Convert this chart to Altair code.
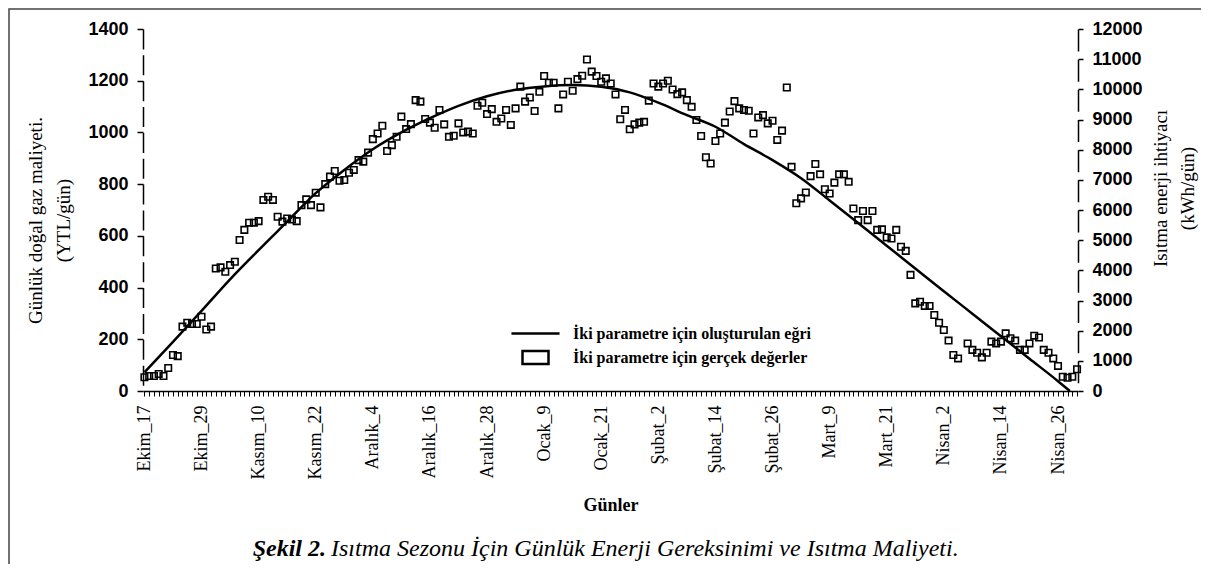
import json
import altair as alt
import pandas as pd

# ---- data ----
day_labels = ["Ekim_17", "Ekim_29", "Kasım_10", "Kasım_22", "Aralık_4", "Aralık_16",
              "Aralık_28", "Ocak_9", "Ocak_21", "Şubat_2", "Şubat_14", "Şubat_26",
              "Mart_9", "Mart_21", "Nisan_2", "Nisan_14", "Nisan_26"]
tick_days = list(range(0, 197))

# daily measured cost (YTL/gün); index = day since Ekim_17, None = no reading
cost_values = [
    53, 58, 58, 66, 58, 89, 139, 135, 249, 264,
    259, 259, 287, 238, 249, 474, 478, 461, 487, 500,
    584, 623, 651, 651, 657, 739, 751, 739, 674, 655,
    667, 663, 657, 719, 741, 719, 767, 710, 800, 829,
    851, 813, 816, 844, 855, 893, 887, 922, 974, 996,
    1026, 928, 951, 983, 1061, 1013, 1032, 1125, 1119, 1052,
    1038, 1018, 1087, 1031, 983, 987, 1035, 1000, 1003, 996,
    1103, 1115, 1071, 1090, 1041, 1054, 1087, 1029, 1093, 1177,
    1119, 1135, 1083, 1157, 1218, 1192, 1192, 1093, 1147, 1196,
    1161, 1206, 1219, 1282, 1235, 1218, 1196, 1209, 1189, 1147,
    1051, 1087, 1012, 1031, 1038, 1041, 1123, 1189, 1177, 1189,
    1200, 1166, 1148, 1155, 1125, 1099, 1048, 986, 904, 880,
    967, 996, 1038, 1081, 1121, 1093, 1087, 1084, 996, 1058,
    1067, 1035, 1045, 971, 1007, 1174, 867, 726, 745, 768,
    831, 878, 838, 780, 764, 806, 838, 838, 809, 706,
    661, 696, 661, 696, 623, 625, 594, 590, 623, 558,
    542, 449, 339, 345, 329, 329, 294, 264, 236, 195,
    139, 126, None, 184, 159, 148, 130, 148, 191, 184,
    191, 223, 204, 195, 159, 159, 184, 214, 207, 159,
    148, 126, 97, 55, 51, 55, 84,
]

# fitted curve read at sample days
curve_days = [0, 6, 12, 18, 24, 30, 36, 42, 48, 54, 60, 66, 72, 78, 84, 90, 96,
              102, 108, 114, 120, 126, 132, 138, 144, 150, 156, 162, 168, 174,
              180, 186, 192, 194.5]
curve_values = [72, 190, 310, 432, 545, 655, 765, 855, 935, 1000, 1055, 1103,
                1140, 1165, 1178, 1183, 1177, 1155, 1115, 1067, 1022, 955, 893,
                823, 737, 650, 562, 474, 386, 299, 212, 125, 38, 0]

left_ticks = [0, 200, 400, 600, 800, 1000, 1200, 1400]
right_ticks = [0, 1000, 2000, 3000, 4000, 5000, 6000, 7000, 8000, 9000,
               10000, 11000, 12000]

legend_labels = ["İki parametre için oluşturulan eğri", "İki parametre için gerçek değerler"]
caption_bold = "Şekil 2."
caption_rest = "Isıtma Sezonu İçin Günlük Enerji Gereksinimi ve Isıtma Maliyeti."

# ---- tables ----
points = pd.DataFrame({"day": list(range(len(cost_values))), "cost": cost_values}).dropna()
curve = pd.DataFrame({"day": curve_days, "cost": curve_values})
legend_df = pd.DataFrame({"series": legend_labels})
right_df = pd.DataFrame({"kwh": right_ticks})
one = pd.DataFrame({"a": [0]})

W, H = 935, 362
serif = "Liberation Serif"
sans = "Liberation Sans"

xscale = alt.Scale(domain=[-0.3, 196.2], nice=False, zero=False)
yscale = alt.Scale(domain=[0, 1400], nice=False)

label_expr = ("datum.value % 12 == 0 ? " + json.dumps(day_labels, ensure_ascii=False)
              + "[datum.value / 12] : ''")

x_axis = alt.Axis(values=tick_days, labelExpr=label_expr, labelAngle=270,
                  labelAlign="right", labelBaseline="middle", labelFont=serif,
                  labelFontSize=18, labelColor="black", labelPadding=9,
                  labelOverlap=False, labelBound=False, labelFlush=False,
                  tickSize=5, tickColor="black", tickWidth=1,
                  domainColor="black", domainWidth=1.5, grid=False,
                  title="Günler", titleFont=serif, titleFontSize=18,
                  titleFontWeight="bold", titleColor="black", titlePadding=18)

y_axis = alt.Axis(values=left_ticks, orient="left", format="d", labelFont=sans,
                  labelFontSize=18, labelFontWeight="bold", labelColor="black",
                  labelPadding=9, tickSize=6, tickColor="black", tickWidth=1.5,
                  domainColor="black", domainWidth=1.5,
                  domainDash=[20, 5.86], domainDashOffset=20, grid=False,
                  title=["Günlük doğal gaz maliyeti.", "(YTL/gün)"],
                  titleFont=serif, titleFontSize=19, titleFontWeight="normal",
                  titleColor="black", titleLineHeight=28, titlePadding=14,
                  titleAngle=270, titleY=191)

r_axis = alt.Axis(values=right_ticks, orient="right", format="d", labelFont=sans,
                  labelFontSize=18, labelFontWeight="bold", labelColor="black",
                  labelPadding=9, tickSize=5, tickColor="black", tickWidth=1.5,
                  domainColor="black", domainWidth=1.5,
                  domainDash=[22, 8.17], domainDashOffset=22, grid=False,
                  title=["Isıtma enerji ihtiyacı", "(kWh/gün)"],
                  titleFont=serif, titleFontSize=19, titleFontWeight="normal",
                  titleColor="black", titleLineHeight=27,
                  titleAngle=270, titleBaseline="middle", titleX=82, titleY=159)

frame = alt.Chart(one).mark_rect(fill="transparent", stroke="#444", strokeWidth=1.5).encode(
    x=alt.value(-134), x2=alt.value(1300), y=alt.value(-20), y2=alt.value(800))

line = alt.Chart(curve).mark_line(color="black", strokeWidth=2.5, interpolate="monotone").encode(
    x=alt.X("day:Q", scale=xscale, axis=x_axis),
    y=alt.Y("cost:Q", scale=yscale, axis=y_axis),
)

pts = alt.Chart(points).mark_point(shape="square", filled=False, color="black",
                                   size=42, strokeWidth=1.6, opacity=1).encode(
    x=alt.X("day:Q", scale=xscale, axis=x_axis),
    y=alt.Y("cost:Q", scale=yscale, axis=y_axis),
)

left_group = alt.layer(line, pts)

legend_layer = alt.Chart(legend_df).mark_point(opacity=0, color="black", filled=False).encode(
    x=alt.value(0), y=alt.value(0),
    shape=alt.Shape("series:N",
                    scale=alt.Scale(domain=legend_labels,
                                    range=["M-1.85,0H1.85", "M-1,-0.5H1V0.5H-1Z"]),
                    legend=alt.Legend(orient="none", legendX=378, legendY=290,
                                      title=None, direction="vertical",
                                      labelFont=serif, labelFontSize=16,
                                      labelFontWeight="bold", labelColor="black",
                                      labelOffset=23, labelLimit=400, symbolSize=676,
                                      symbolStrokeWidth=2.5, symbolStrokeColor="black",
                                      symbolFillColor="transparent", symbolOpacity=1,
                                      rowPadding=1, padding=0)),
)

right_layer = alt.Chart(right_df).mark_point(opacity=0).encode(
    x=alt.value(0),
    y=alt.Y("kwh:Q", scale=alt.Scale(domain=[0, 12000], nice=False), axis=r_axis),
)

cap1 = alt.Chart(one).mark_text(text=caption_bold, font=serif, fontSize=24, fontWeight="bold",
                                fontStyle="italic", align="right", baseline="middle",
                                color="black").encode(x=alt.value(183), y=alt.value(520))
cap2 = alt.Chart(one).mark_text(text=caption_rest, font=serif, fontSize=24, fontWeight="normal",
                                fontStyle="italic", align="left", baseline="middle",
                                color="black").encode(x=alt.value(188), y=alt.value(520))

chart = alt.layer(frame, left_group, right_layer, legend_layer, cap1, cap2).resolve_scale(
    y="independent"
).properties(
    width=W, height=H,
    autosize=alt.AutoSizeParams(type="none"),
    padding={"left": 135, "top": 21, "right": 123, "bottom": 173},
    background="white",
).configure_view(stroke=None)

chart.save("out.html", embed_options={"renderer": "svg", "actions": False})
